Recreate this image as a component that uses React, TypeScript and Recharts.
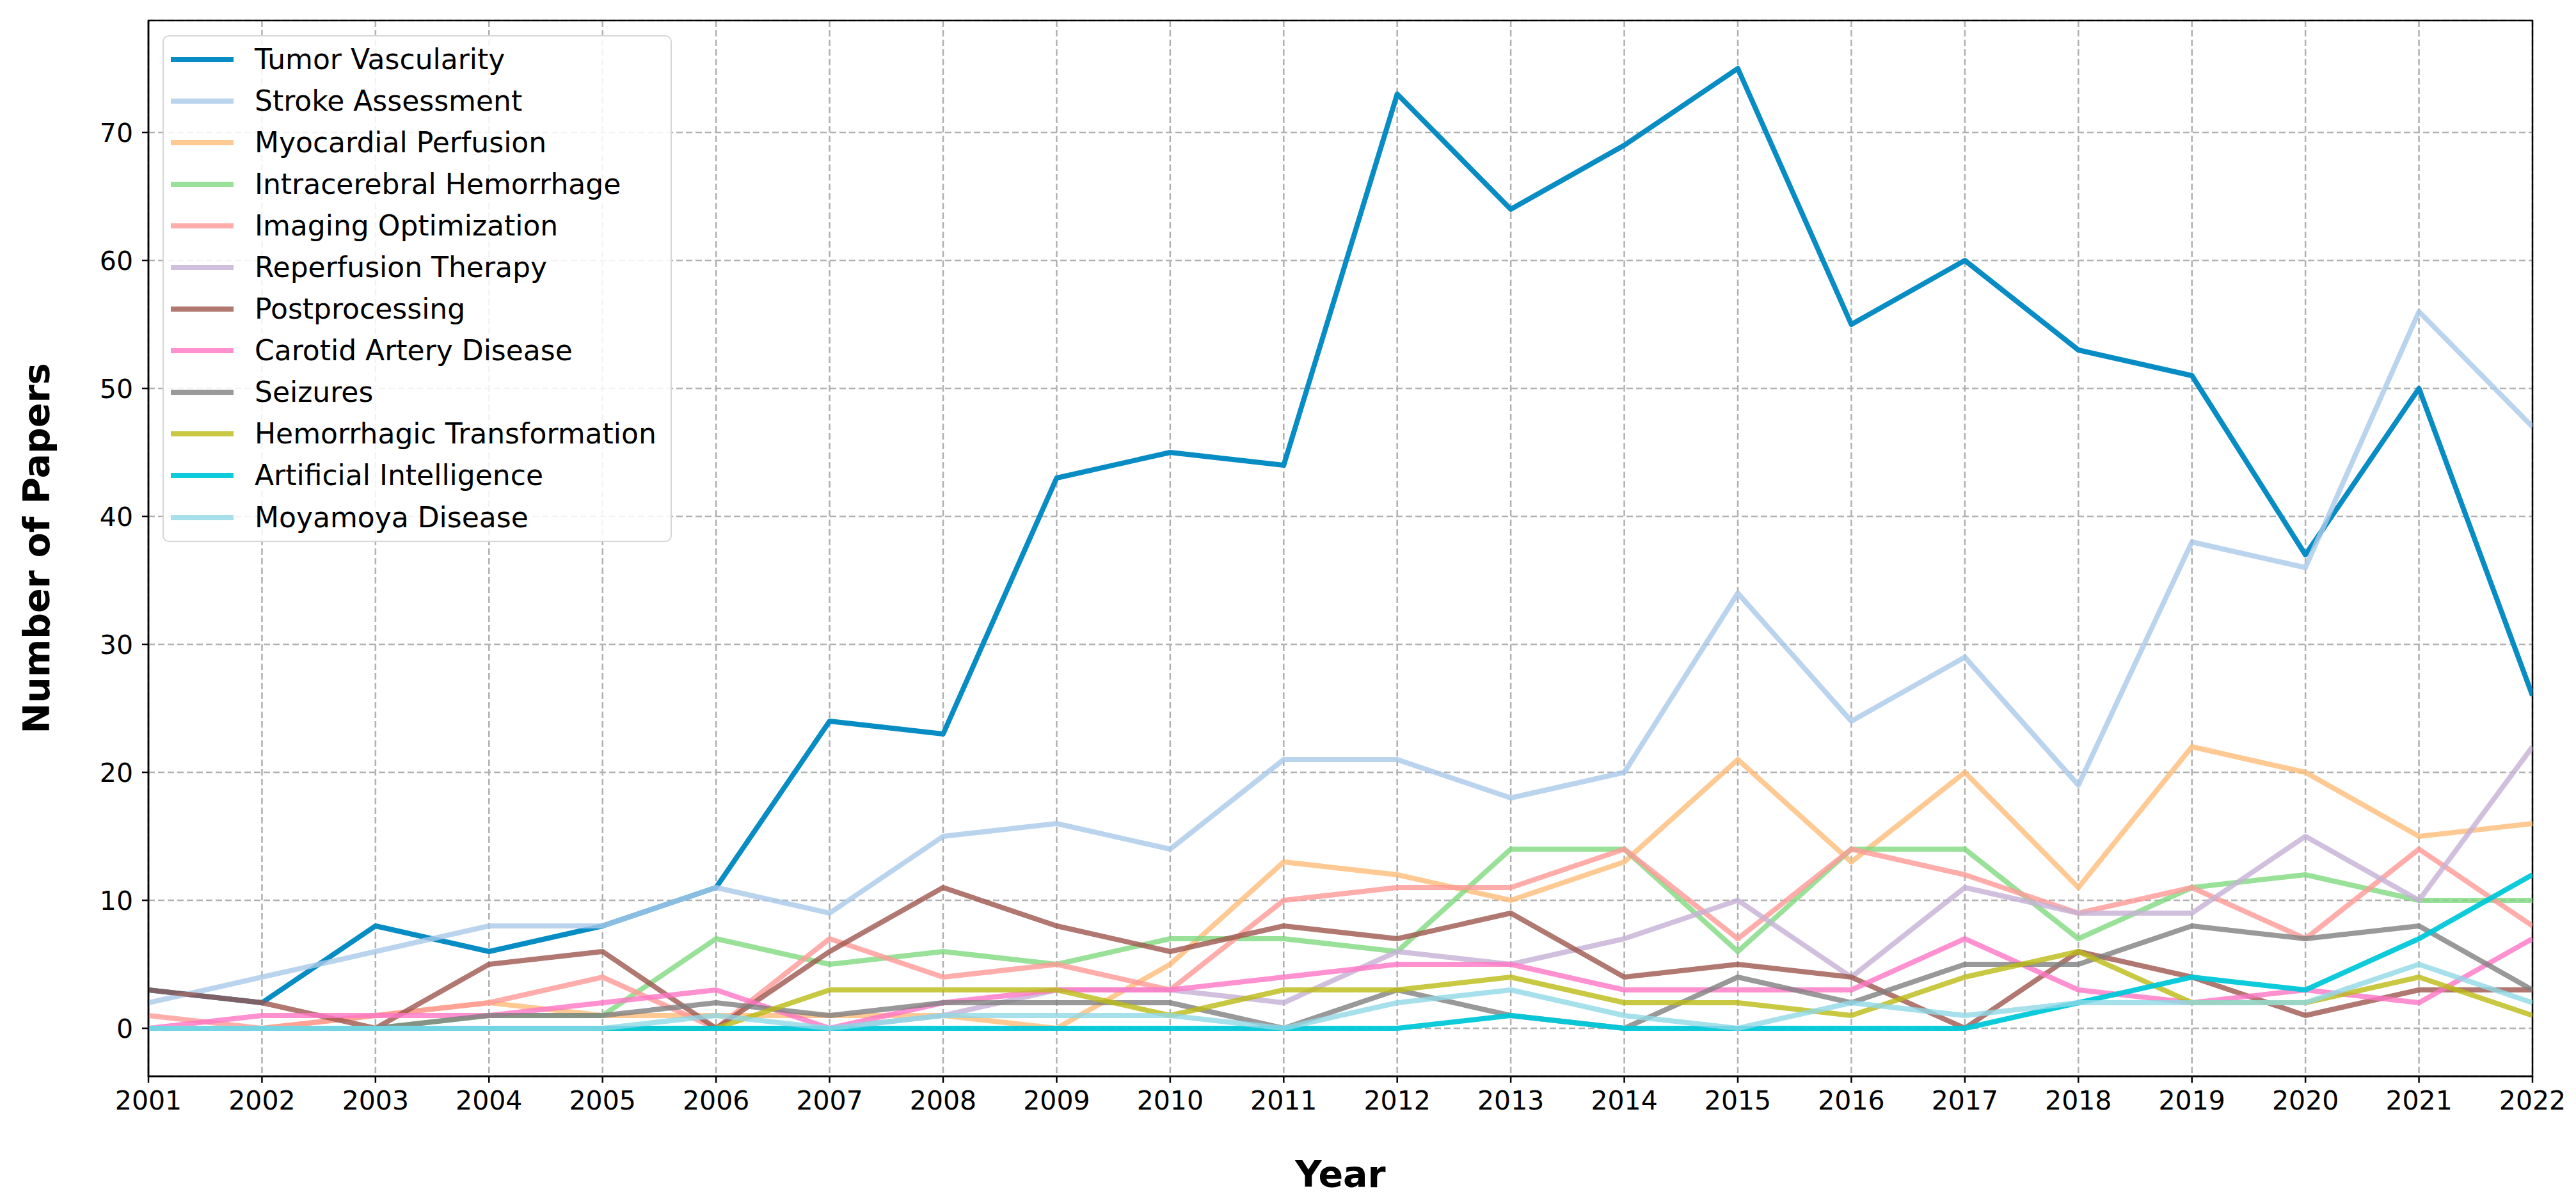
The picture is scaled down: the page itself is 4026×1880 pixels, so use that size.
import { LineChart, Line, XAxis, YAxis, CartesianGrid, Legend, ReferenceArea, Label } from 'recharts';

const years = [2001, 2002, 2003, 2004, 2005, 2006, 2007, 2008, 2009, 2010, 2011, 2012, 2013, 2014, 2015, 2016, 2017, 2018, 2019, 2020, 2021, 2022];

const tumorVascularity = [3, 2, 8, 6, 8, 11, 24, 23, 43, 45, 44, 73, 64, 69, 75, 55, 60, 53, 51, 37, 50, 26];
const strokeAssessment = [2, 4, 6, 8, 8, 11, 9, 15, 16, 14, 21, 21, 18, 20, 34, 24, 29, 19, 38, 36, 56, 47];
const myocardialPerfusion = [0, 0, 1, 2, 1, 1, 1, 1, 0, 5, 13, 12, 10, 13, 21, 13, 20, 11, 22, 20, 15, 16];
const intracerebralHemorrhage = [0, 0, 0, 1, 1, 7, 5, 6, 5, 7, 7, 6, 14, 14, 6, 14, 14, 7, 11, 12, 10, 10];
const imagingOptimization = [1, 0, 1, 2, 4, 0, 7, 4, 5, 3, 10, 11, 11, 14, 7, 14, 12, 9, 11, 7, 14, 8];
const reperfusionTherapy = [0, 0, 0, 0, 0, 0, 0, 1, 3, 3, 2, 6, 5, 7, 10, 4, 11, 9, 9, 15, 10, 22];
const postprocessing = [3, 2, 0, 5, 6, 0, 6, 11, 8, 6, 8, 7, 9, 4, 5, 4, 0, 6, 4, 1, 3, 3];
const carotidArteryDisease = [0, 1, 1, 1, 2, 3, 0, 2, 3, 3, 4, 5, 5, 3, 3, 3, 7, 3, 2, 3, 2, 7];
const seizures = [0, 0, 0, 1, 1, 2, 1, 2, 2, 2, 0, 3, 1, 0, 4, 2, 5, 5, 8, 7, 8, 3];
const hemorrhagicTransformation = [0, 0, 0, 0, 0, 0, 3, 3, 3, 1, 3, 3, 4, 2, 2, 1, 4, 6, 2, 2, 4, 1];
const artificialIntelligence = [0, 0, 0, 0, 0, 0, 0, 0, 0, 0, 0, 0, 1, 0, 0, 0, 0, 2, 4, 3, 7, 12];
const moyamoyaDisease = [0, 0, 0, 0, 0, 1, 0, 1, 1, 1, 0, 2, 3, 1, 0, 2, 1, 2, 2, 2, 5, 2];

const yTicks = [0, 10, 20, 30, 40, 50, 60, 70];

const series = [
	{ key: 'tumor', name: 'Tumor Vascularity', values: tumorVascularity, color: '#088cc4', opacity: 1 },
	{ key: 'stroke', name: 'Stroke Assessment', values: strokeAssessment, color: '#aac9ea', opacity: 0.8 },
	{ key: 'myo', name: 'Myocardial Perfusion', values: myocardialPerfusion, color: '#ffbb78', opacity: 0.8 },
	{ key: 'ich', name: 'Intracerebral Hemorrhage', values: intracerebralHemorrhage, color: '#7fd97f', opacity: 0.8 },
	{ key: 'img', name: 'Imaging Optimization', values: imagingOptimization, color: '#ff9896', opacity: 0.8 },
	{ key: 'rep', name: 'Reperfusion Therapy', values: reperfusionTherapy, color: '#c5b0d5', opacity: 0.8 },
	{ key: 'post', name: 'Postprocessing', values: postprocessing, color: '#9c564c', opacity: 0.8 },
	{ key: 'carotid', name: 'Carotid Artery Disease', values: carotidArteryDisease, color: '#ff75c5', opacity: 0.8 },
	{ key: 'seiz', name: 'Seizures', values: seizures, color: '#7f7f7f', opacity: 0.8 },
	{ key: 'hem', name: 'Hemorrhagic Transformation', values: hemorrhagicTransformation, color: '#baba14', opacity: 0.8 },
	{ key: 'ai', name: 'Artificial Intelligence', values: artificialIntelligence, color: '#00c8d8', opacity: 0.95 },
	{ key: 'moya', name: 'Moyamoya Disease', values: moyamoyaDisease, color: '#8fd8e6', opacity: 0.8 },
];

const data = years.map((year, i) => {
	const row: any = { year };
	series.forEach((s) => {
		row[s.key] = s.values[i];
	});
	return row;
});

const FONT = 'DejaVu Sans';
const LINE_W = 8;

const renderLegend = () => (
	<div
		style={{
			boxSizing: 'border-box',
			width: 796,
			height: 792,
			border: '2.5px solid #d6d6d6',
			borderRadius: 10,
			background: 'rgba(255,255,255,0.85)',
			paddingTop: 3,
			fontFamily: FONT,
		}}
	>
		{series.map((s) => (
			<div key={s.key} style={{ display: 'flex', alignItems: 'center', height: 65.1 }}>
				<svg width={98} height={12} style={{ marginLeft: 11, marginRight: 33 }}>
					<line x1={0} y1={6} x2={98} y2={6} stroke={s.color} strokeOpacity={s.opacity} strokeWidth={LINE_W} />
				</svg>
				<span style={{ fontSize: 44, color: '#000', whiteSpace: 'nowrap', lineHeight: 1 }}>{s.name}</span>
			</div>
		))}
	</div>
);

const YLabel = () => (
	<text x={77} y={857} transform='rotate(-90 77 857)' textAnchor='middle' fontSize={57} fontWeight='bold' fontFamily={FONT} fill='#000'>
		Number of Papers
	</text>
);

const XLabel = () => (
	<text x={2095} y={1855} textAnchor='middle' fontSize={57} fontWeight='bold' fontFamily={FONT} fill='#000'>
		Year
	</text>
);

const App = () => {
	return (
		<div style={{ position: 'absolute', left: 0, top: 0, background: '#fff' }}>
			<LineChart width={4026} height={1880} data={data} margin={{ top: 32, right: 68, left: 0, bottom: 0 }}>
				<CartesianGrid stroke='#b0b0b0' strokeWidth={2.5} strokeDasharray='10 5' />
				<XAxis
					dataKey='year'
					type='number'
					domain={[2001, 2022]}
					ticks={years}
					interval={0}
					allowDataOverflow
					height={198}
					tickSize={10}
					tickMargin={13}
					axisLine={{ stroke: '#000', strokeWidth: 2.5 }}
					tickLine={{ stroke: '#000', strokeWidth: 2.5 }}
					tick={{ fontSize: 41, fill: '#000', fontFamily: FONT }}
				>
					<Label content={<XLabel />} />
				</XAxis>
				<YAxis
					type='number'
					domain={[-3.75, 78.75]}
					ticks={yTicks}
					interval={0}
					allowDataOverflow
					width={232}
					tickSize={10}
					tickMargin={14}
					axisLine={{ stroke: '#000', strokeWidth: 2.5 }}
					tickLine={{ stroke: '#000', strokeWidth: 2.5 }}
					tick={{ fontSize: 41, fill: '#000', fontFamily: FONT }}
				>
					<Label content={<YLabel />} />
				</YAxis>
				{series.map((s) => (
					<Line
						key={s.key}
						type='linear'
						dataKey={s.key}
						name={s.name}
						stroke={s.color}
						strokeOpacity={s.opacity}
						strokeWidth={LINE_W}
						strokeLinejoin='round'
						dot={false}
						activeDot={false}
						isAnimationActive={false}
					/>
				))}
				<ReferenceArea x1={2001} x2={2022} y1={-3.75} y2={78.75} fill='none' stroke='#000' strokeWidth={2.5} ifOverflow='visible' />
				<Legend
					layout='vertical'
					align='center'
					verticalAlign='middle'
					content={renderLegend}
					wrapperStyle={{ left: 254, top: 55, width: 796 }}
				/>
			</LineChart>
		</div>
	);
};

export default App;
